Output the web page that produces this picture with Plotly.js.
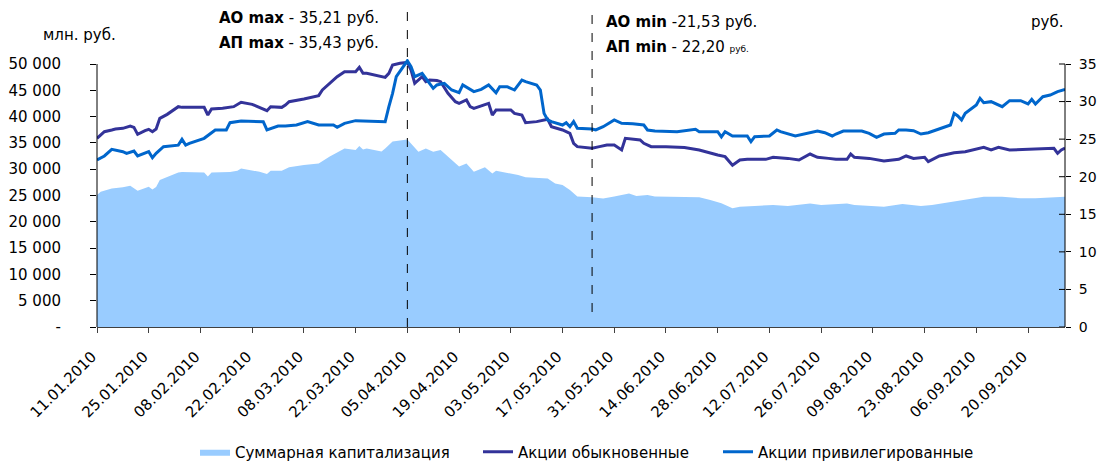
<!DOCTYPE html>
<html>
<head>
<meta charset="utf-8">
<script src="https://cdn.plot.ly/plotly-3.0.1.min.js"></script>
<style>
html,body{margin:0;padding:0;background:#fff;}
#chart{width:1097px;height:461px;}
</style>
</head>
<body>
<div id="chart"></div>
<script>
// Суммарная капитализация, млн. руб. (left axis)
const capDates = ['2010-01-11','2010-01-12','2010-01-15','2010-01-18','2010-01-20','2010-01-22','2010-01-25','2010-01-26','2010-01-27','2010-01-28',
 '2010-02-02','2010-02-03','2010-02-09','2010-02-10','2010-02-11','2010-02-16','2010-02-18','2010-02-19','2010-02-24','2010-02-26','2010-02-27',
 '2010-03-02','2010-03-04','2010-03-08','2010-03-12','2010-03-15','2010-03-19','2010-03-22','2010-03-23','2010-03-24','2010-03-25','2010-03-29','2010-03-30',
 '2010-04-01','2010-04-05','2010-04-06','2010-04-08','2010-04-10','2010-04-12','2010-04-14','2010-04-17','2010-04-19','2010-04-21','2010-04-23','2010-04-26','2010-04-28','2010-04-29',
 '2010-05-05','2010-05-07','2010-05-13','2010-05-15','2010-05-17','2010-05-19','2010-05-21','2010-05-25','2010-05-28','2010-05-31',
 '2010-06-04','2010-06-06','2010-06-09','2010-06-11','2010-06-23','2010-06-26','2010-06-29',
 '2010-07-02','2010-07-04','2010-07-08','2010-07-13','2010-07-17','2010-07-23','2010-07-26',
 '2010-08-02','2010-08-04','2010-08-10','2010-08-12','2010-08-17','2010-08-22','2010-08-25',
 '2010-09-02','2010-09-08','2010-09-13','2010-09-18','2010-09-22','2010-09-27','2010-09-30'];
const capValues = [25100,25700,26350,26550,26850,25900,26650,26150,26600,27950,
 29350,29450,29350,28600,29350,29450,29700,30150,29500,29100,29700,
 29700,30350,30800,31100,32400,33950,33650,34400,33750,33950,33350,33950,
 35250,35650,34900,33330,33950,33330,33650,31750,30500,31100,29500,30350,29200,29700,
 28900,28450,28250,27300,27000,26050,24800,24650,24450,24800,
 25400,24900,25100,24800,24650,24150,23550,
 22560,22870,23000,23200,23000,23500,23200,
 23500,23200,23000,22870,23380,23000,23200,
 24150,24780,24780,24460,24460,24650,24780];

// Акции обыкновенные, руб. (right axis)
const aoDates = ['2010-01-11','2010-01-13','2010-01-15','2010-01-16','2010-01-18','2010-01-20','2010-01-21','2010-01-22','2010-01-24','2010-01-25','2010-01-26','2010-01-27','2010-01-28','2010-01-30',
 '2010-02-02','2010-02-03','2010-02-09','2010-02-10','2010-02-11','2010-02-14','2010-02-17','2010-02-19','2010-02-22','2010-02-24','2010-02-26','2010-02-27',
 '2010-03-02','2010-03-03','2010-03-04','2010-03-08','2010-03-12','2010-03-13','2010-03-15','2010-03-17','2010-03-19','2010-03-22','2010-03-23','2010-03-24','2010-03-25','2010-03-28','2010-03-30','2010-03-31',
 '2010-04-01','2010-04-03','2010-04-05','2010-04-06','2010-04-07','2010-04-09','2010-04-10','2010-04-11','2010-04-13','2010-04-14','2010-04-16','2010-04-18','2010-04-19','2010-04-21','2010-04-22','2010-04-23','2010-04-26','2010-04-27','2010-04-28','2010-04-29',
 '2010-05-03','2010-05-04','2010-05-06','2010-05-07','2010-05-10','2010-05-13','2010-05-14','2010-05-17','2010-05-19','2010-05-20','2010-05-21','2010-05-25','2010-05-27','2010-05-29','2010-05-31',
 '2010-06-02','2010-06-03','2010-06-07','2010-06-08','2010-06-10','2010-06-14','2010-06-19','2010-06-23','2010-06-26','2010-06-28','2010-06-30',
 '2010-07-02','2010-07-04','2010-07-06','2010-07-11','2010-07-13','2010-07-17','2010-07-20','2010-07-23','2010-07-25','2010-07-28','2010-07-30',
 '2010-08-02','2010-08-03','2010-08-04','2010-08-08','2010-08-12','2010-08-16','2010-08-18','2010-08-20','2010-08-23','2010-08-24','2010-08-27','2010-08-31',
 '2010-09-03','2010-09-08','2010-09-10','2010-09-12','2010-09-15','2010-09-22','2010-09-27','2010-09-28','2010-09-29','2010-09-30'];
const aoValues = [25.11,25.99,26.22,26.35,26.44,26.75,26.57,25.64,26.13,26.31,25.99,26.35,27.77,28.30,
 29.32,29.23,29.23,28.21,29.01,29.10,29.32,29.90,29.63,29.23,28.79,29.32,
 29.23,29.54,29.99,30.34,30.79,31.54,32.43,33.31,33.98,33.98,34.56,33.76,33.76,33.40,33.22,33.76,
 34.87,35.10,35.21,34.20,32.43,33.31,32.65,32.87,32.80,32.65,31.10,29.99,29.77,30.21,29.32,29.10,29.54,29.77,28.21,28.88,
 28.88,28.43,28.21,27.19,27.33,27.64,26.66,26.22,25.77,24.44,24.00,23.78,24.00,24.22,24.22,
 23.56,25.11,24.89,24.44,24.00,24.00,23.90,23.56,23.11,22.89,22.67,
 21.53,22.22,22.31,22.31,22.58,22.44,22.22,23.02,22.58,22.44,22.31,
 22.31,23.02,22.58,22.44,22.09,22.31,22.76,22.44,22.58,22.00,22.76,23.20,
 23.33,23.91,23.56,23.91,23.56,23.64,23.78,23.11,23.56,23.82];

// Акции привилегированные, руб. (right axis)
const apDates = ['2010-01-11','2010-01-13','2010-01-15','2010-01-18','2010-01-19','2010-01-21','2010-01-22','2010-01-25','2010-01-26','2010-01-27','2010-01-29',
 '2010-02-01','2010-02-02','2010-02-03','2010-02-04','2010-02-05','2010-02-09','2010-02-12','2010-02-15','2010-02-16','2010-02-19','2010-02-25','2010-02-26',
 '2010-03-01','2010-03-03','2010-03-06','2010-03-09','2010-03-12','2010-03-16','2010-03-17','2010-03-19','2010-03-22','2010-03-25','2010-03-30','2010-03-31',
 '2010-04-01','2010-04-02','2010-04-04','2010-04-05','2010-04-06','2010-04-07','2010-04-09','2010-04-10','2010-04-12','2010-04-13','2010-04-15','2010-04-17','2010-04-19','2010-04-20','2010-04-22','2010-04-23','2010-04-25','2010-04-27','2010-04-29','2010-04-30',
 '2010-05-02','2010-05-04','2010-05-06','2010-05-07','2010-05-10','2010-05-11','2010-05-12','2010-05-13','2010-05-14','2010-05-17','2010-05-18','2010-05-19','2010-05-20','2010-05-21','2010-05-25','2010-05-26','2010-05-28','2010-05-31',
 '2010-06-02','2010-06-05','2010-06-08','2010-06-09','2010-06-11','2010-06-17','2010-06-22','2010-06-23','2010-06-28','2010-06-29','2010-06-30',
 '2010-07-02','2010-07-06','2010-07-07','2010-07-08','2010-07-12','2010-07-14','2010-07-15','2010-07-19','2010-07-22','2010-07-25','2010-07-27','2010-07-29','2010-07-30',
 '2010-08-01','2010-08-06','2010-08-08','2010-08-10','2010-08-12','2010-08-15','2010-08-16','2010-08-18','2010-08-20','2010-08-22','2010-08-24','2010-08-30','2010-08-31',
 '2010-09-01','2010-09-02','2010-09-03','2010-09-06','2010-09-07','2010-09-08','2010-09-10','2010-09-13','2010-09-15','2010-09-18','2010-09-20','2010-09-21','2010-09-22','2010-09-24','2010-09-26','2010-09-28','2010-09-30'];
const apValues = [22.22,22.76,23.64,23.33,23.11,23.42,22.76,23.33,22.53,23.11,24.00,
 24.13,24.20,24.97,24.20,24.44,25.11,26.22,26.22,27.19,27.41,27.33,26.22,
 26.75,26.75,26.88,27.33,26.88,26.88,26.57,27.10,27.46,27.41,27.33,29.32,
 31.10,33.31,34.80,35.43,34.65,33.31,33.76,33.09,31.76,32.21,32.43,31.54,31.18,32.21,31.54,31.32,31.63,32.21,31.18,31.98,
 31.98,31.54,32.87,32.65,32.21,31.54,28.43,27.55,27.33,26.88,27.19,26.66,27.33,26.44,26.35,26.22,26.66,27.55,
 27.10,27.05,26.88,26.22,26.08,25.99,26.31,25.99,25.99,25.29,25.99,
 25.42,25.42,24.66,25.33,25.42,26.22,25.99,25.42,25.77,26.08,25.86,25.42,25.68,
 26.08,26.08,25.77,25.24,25.68,25.77,26.22,26.22,26.13,25.68,25.86,26.88,28.43,
 28.08,27.55,28.43,29.54,30.43,29.85,29.99,29.32,30.12,30.12,29.68,30.30,29.68,30.65,30.87,31.32,31.63];

// Axis tick labels
const xTickVals = ['2010-01-11','2010-01-25','2010-02-08','2010-02-22','2010-03-08','2010-03-22','2010-04-05','2010-04-19','2010-05-03','2010-05-17','2010-05-31',
 '2010-06-14','2010-06-28','2010-07-12','2010-07-26','2010-08-09','2010-08-23','2010-09-06','2010-09-20'];
const xTickText = ['11.01.2010','25.01.2010','08.02.2010','22.02.2010','08.03.2010','22.03.2010','05.04.2010','19.04.2010','03.05.2010','17.05.2010','31.05.2010',
 '14.06.2010','28.06.2010','12.07.2010','26.07.2010','09.08.2010','23.08.2010','06.09.2010','20.09.2010'];
const yLeftVals = [0,5000,10000,15000,20000,25000,30000,35000,40000,45000,50000];
const yLeftText = ['-','5 000','10 000','15 000','20 000','25 000','30 000','35 000','40 000','45 000','50 000'];
const yRightVals = [0,5,10,15,20,25,30,35];

const seriesNames = ['Суммарная капитализация','Акции обыкновенные','Акции привилегированные'];
const maxDate = '2010-04-05';
const minDate = '2010-05-25';

const FONT = 'DejaVu Sans, Liberation Sans, Arial, sans-serif';
// plot area: left 97 .. right 1065, top 59 .. bottom 327 (268px); 50 000 / 35 sit at 263px
const W = 968, H = 268, HT = 263;
const leftMax = 50000 * H / HT, rightMax = 35 * H / HT;
const py = p => (327 - p) / H;       // pixel row -> paper y
const px = p => (p - 97) / W;        // pixel column -> paper x

const traces = [
  {x: capDates, y: capValues, name: seriesNames[0], type: 'scatter', mode: 'lines',
   fill: 'tozeroy', fillcolor: '#99CCFF', line: {width: 0, color: '#99CCFF'}, yaxis: 'y', legend: 'legend'},
  {x: aoDates, y: aoValues, name: seriesNames[1], type: 'scatter', mode: 'lines',
   line: {width: 3, color: '#333399'}, yaxis: 'y2', legend: 'legend2'},
  {x: apDates, y: apValues, name: seriesNames[2], type: 'scatter', mode: 'lines',
   line: {width: 3, color: '#0066CC'}, yaxis: 'y2', legend: 'legend3'}
];

const legendBase = {orientation: 'h', xanchor: 'left', y: py(452), yanchor: 'middle',
  font: {family: FONT, size: 15, color: '#000'}, itemwidth: 30, bgcolor: 'rgba(0,0,0,0)'};

// right axis: Excel-style crossing tick marks (inner half)
const innerTicks = yRightVals.map(v => ({type: 'line', xref: 'paper', yref: 'y2',
  x0: 1 - 6 / W, x1: 1, y0: v, y1: v, line: {color: '#000', width: 1}}));

const layout = {
  width: 1097, height: 461,
  margin: {l: 97, r: 32, t: 59, b: 134, autoexpand: false},
  paper_bgcolor: '#fff', plot_bgcolor: '#fff',
  font: {family: FONT, size: 15, color: '#000'},
  showlegend: true,
  legend: Object.assign({}, legendBase, {x: px(195)}),
  legend2: Object.assign({}, legendBase, {x: px(478)}),
  legend3: Object.assign({}, legendBase, {x: px(718)}),
  xaxis: {type: 'date', range: ['2010-01-11', '2010-09-30'], tickmode: 'array',
          tickvals: xTickVals, ticktext: xTickText, tickangle: -45,
          ticks: 'outside', ticklen: 5, tickcolor: '#404040', showgrid: false, zeroline: false,
          showline: true, linecolor: '#404040', linewidth: 1, ticklabelstandoff: 9, ticklabelshift: -5,
          tickfont: {family: FONT, size: 15, color: '#000'}},
  yaxis: {range: [0, leftMax], tickmode: 'array', tickvals: yLeftVals, ticktext: yLeftText,
          ticks: 'outside', ticklen: 6, tickcolor: '#000', showgrid: false, zeroline: false,
          showline: false, ticklabelstandoff: 26,
          tickfont: {family: FONT, size: 15, color: '#000'}},
  yaxis2: {range: [0, rightMax], overlaying: 'y', side: 'right', tickmode: 'array', tickvals: yRightVals,
           ticks: 'outside', ticklen: 5, tickcolor: '#000', showgrid: false, zeroline: false,
           showline: false, ticklabelstandoff: 5,
           tickfont: {family: FONT, size: 14, color: '#000'}},
  shapes: [
    {type: 'line', xref: 'paper', yref: 'y', x0: 0, x1: 0, y0: 0, y1: 50000, line: {color: '#000', width: 1}},
    {type: 'line', xref: 'paper', yref: 'y', x0: 1, x1: 1, y0: 0, y1: 50000, line: {color: '#000', width: 1}},
    {type: 'line', xref: 'x', yref: 'paper', x0: maxDate, x1: maxDate, y0: 0, y1: py(8),
     line: {color: '#000', width: 1, dash: 'dash'}},
    {type: 'line', xref: 'x', yref: 'paper', x0: minDate, x1: minDate, y0: py(312), y1: py(8),
     line: {color: '#000', width: 1, dash: 'dash'}}
  ].concat(innerTicks),
  annotations: [
    {xref: 'paper', yref: 'paper', x: px(79), y: py(35), xanchor: 'center', yanchor: 'middle',
     text: 'млн. руб.', showarrow: false, font: {family: FONT, size: 15}},
    {xref: 'paper', yref: 'paper', x: px(1047), y: py(22), xanchor: 'center', yanchor: 'middle',
     text: 'руб.', showarrow: false, font: {family: FONT, size: 15}},
    {xref: 'paper', yref: 'paper', x: px(381), y: py(18), xanchor: 'right', yanchor: 'middle',
     text: '<b>АО max</b> - 35,21 руб.', showarrow: false, font: {family: FONT, size: 15}},
    {xref: 'paper', yref: 'paper', x: px(381), y: py(43), xanchor: 'right', yanchor: 'middle',
     text: '<b>АП max</b> - 35,43 руб.', showarrow: false, font: {family: FONT, size: 15}},
    {xref: 'paper', yref: 'paper', x: px(604), y: py(22), xanchor: 'left', yanchor: 'middle',
     text: '<b>АО min</b> -21,53 руб.', showarrow: false, font: {family: FONT, size: 15}},
    {xref: 'paper', yref: 'paper', x: px(604), y: py(47), xanchor: 'left', yanchor: 'middle',
     text: '<b>АП min</b> - 22,20 <span style="font-size:9px">руб.</span>', showarrow: false, font: {family: FONT, size: 15}}
  ]
};

Plotly.newPlot('chart', traces, layout, {displayModeBar: false, staticPlot: true});
</script>
</body>
</html>
